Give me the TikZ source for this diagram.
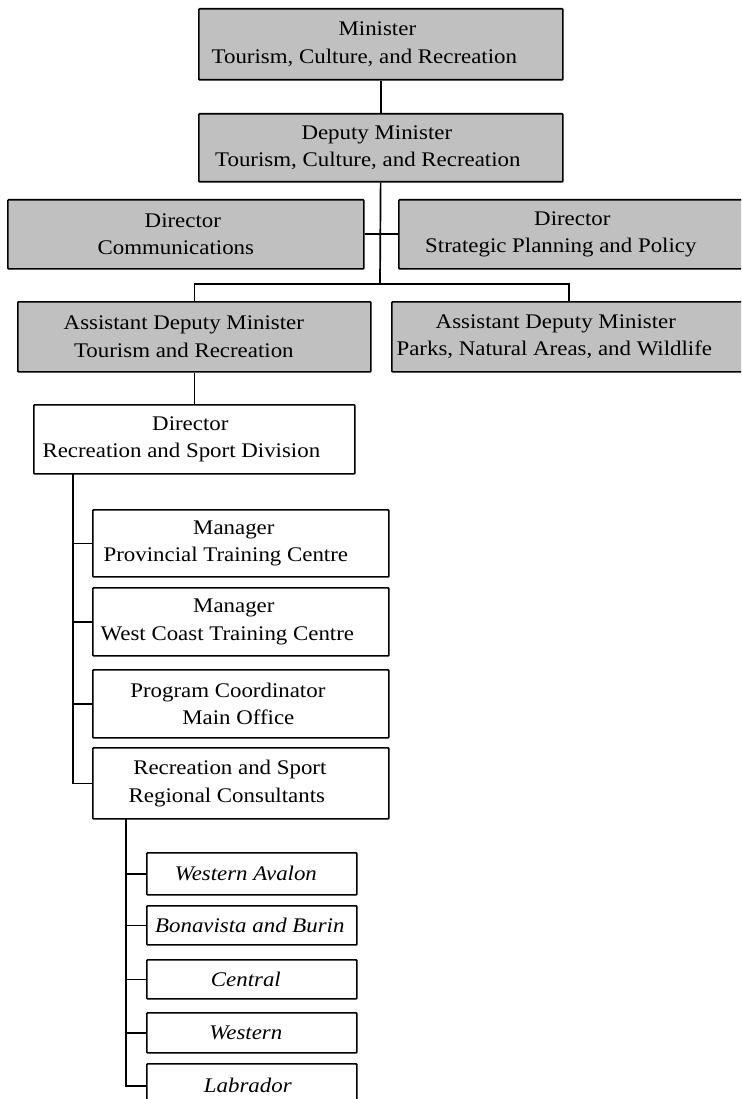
\documentclass[tikz,border=0pt]{standalone}
\usepackage{fontspec}
\setmainfont{Liberation Serif}[FakeStretch=1.1]
\definecolor{boxgray}{RGB}{192,192,192}
% push a centred line to the left by half the given amount
\newcommand{\lsh}[1]{\hspace*{-#1pt}}
\tikzset{
  unit/.style={draw=black, line width=1.7pt, fill=white, inner sep=0pt,
    anchor=north west, align=center, rounded corners=0.8pt,
    font=\fontsize{20.8pt}{27.5pt}\selectfont},
  graybox/.style={unit, fill=boxgray},
  region/.style={unit, font=\fontsize{20.8pt}{27.5pt}\selectfont\itshape},
  wire/.style={draw=black, line width=1.7pt}
}
\begin{document}
\begin{tikzpicture}[x=1pt, y=-1pt]
\useasboundingbox (0,0) rectangle (741,1099);
\clip (0,0) rectangle (741,1099);
\fill[white] (0,0) rectangle (741,1099);

% executive level
\node[graybox, minimum width=364pt, minimum height=71pt] (min) at (198,8)
  {\lsh{7}Minister\\ \lsh{33}Tourism, Culture, and Recreation};
\node[graybox, minimum width=364pt, minimum height=68pt] (dep) at (198,113)
  {\lsh{8}Deputy Minister\\ \lsh{26}Tourism, Culture, and Recreation};
\node[graybox, minimum width=356pt, minimum height=69pt] (comm) at (7,199)
  {\lsh{6}Director\\ \lsh{20}Communications};
\node[graybox, minimum width=347pt, minimum height=69pt] (strat) at (398,199)
  {Director\\ \lsh{23}Strategic Planning and Policy};
\node[graybox, minimum width=353pt, minimum height=70pt] (adm1) at (17,301)
  {\lsh{21}Assistant Deputy Minister\\ \lsh{21}Tourism and Recreation};
\node[graybox, minimum width=354pt, minimum height=70pt] (adm2) at (391,301)
  {\lsh{26}Assistant Deputy Minister\\ \lsh{29}Parks, Natural Areas, and Wildlife};

% division
\node[unit, minimum width=321pt, minimum height=69pt] (dir) at (33,404)
  {\lsh{8}Director\\ \lsh{26}Recreation and Sport Division};
\node[unit, minimum width=296pt, minimum height=67pt] (m1) at (92,509)
  {\lsh{14}Manager\\ \lsh{30}Provincial Training Centre};
\node[unit, minimum width=296pt, minimum height=68pt] (m2) at (92,587)
  {\lsh{14}Manager\\ \lsh{27}West Coast Training Centre};
\node[unit, minimum width=296pt, minimum height=68pt] (m3) at (92,669)
  {\lsh{26}Program Coordinator\\ \lsh{5}Main Office};
\node[unit, minimum width=296pt, minimum height=71pt] (m4) at (92,747)
  {\lsh{22}Recreation and Sport\\ \lsh{28}Regional Consultants};

% regional consultants
\node[region, minimum width=210pt, minimum height=42pt] (r1) at (146,852) {\lsh{12}Western Avalon};
\node[region, minimum width=210pt, minimum height=39pt] (r2) at (146,905) {\lsh{4}Bonavista and Burin};
\node[region, minimum width=210pt, minimum height=39pt] (r3) at (146,959) {\lsh{12}Central};
\node[region, minimum width=210pt, minimum height=40pt] (r4) at (146,1012) {\lsh{12}Western};
\node[region, minimum width=210pt, minimum height=44pt] (r5) at (146,1063) {\lsh{8}Labrador};

% reporting lines
\coordinate (hub) at (380,284);
\coordinate (t1) at (73,473);
\coordinate (t2) at (126,818);
\draw[wire] (min) -- (dep);
\draw[wire] (dep) -- (hub);
\draw[wire] (comm) -- (strat);
\draw[wire] (adm1.north) |- (hub) -| (adm2.north);
\draw[wire] (adm1) -- (dir);
\foreach \m in {m1,m2,m3,m4} \draw[wire] (t1) |- (\m.west);
\foreach \r in {r1,r2,r3,r4,r5} \draw[wire] (t2) |- (\r.west);
\end{tikzpicture}
\end{document}
